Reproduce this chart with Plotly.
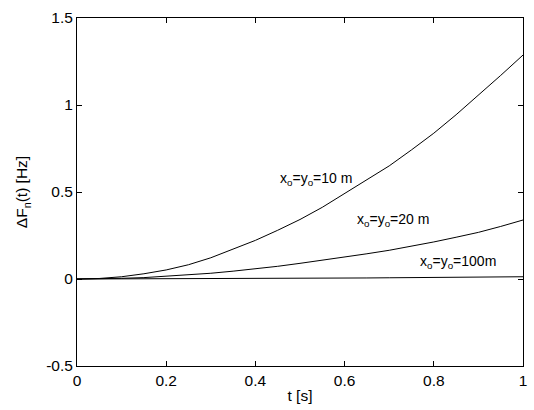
import plotly.graph_objects as go

t = [0.0, 0.05, 0.1, 0.15, 0.2, 0.25, 0.3, 0.35, 0.4, 0.45, 0.5,
     0.55, 0.6, 0.65, 0.7, 0.75, 0.8, 0.85, 0.9, 0.95, 1.0]
df_10m = [0.0, 0.003, 0.013, 0.03, 0.052, 0.082, 0.122, 0.17, 0.222, 0.28, 0.342,
          0.412, 0.49, 0.568, 0.65, 0.742, 0.838, 0.944, 1.056, 1.17, 1.287]
df_20m = [0.0, 0.001, 0.004, 0.008, 0.015, 0.023, 0.033, 0.045, 0.058, 0.073, 0.09,
          0.107, 0.126, 0.145, 0.165, 0.188, 0.213, 0.24, 0.268, 0.302, 0.339]
df_100m = [0.0, 0.0002, 0.0005, 0.0008, 0.001, 0.0015, 0.002, 0.0025, 0.003, 0.0035, 0.004,
           0.0045, 0.005, 0.006, 0.007, 0.008, 0.009, 0.010, 0.011, 0.012, 0.013]

labels = ["x<sub>o</sub>=y<sub>o</sub>=10 m",
          "x<sub>o</sub>=y<sub>o</sub>=20 m",
          "x<sub>o</sub>=y<sub>o</sub>=100m"]
label_t = [0.536, 0.708, 0.855]
label_y = [0.575, 0.34, 0.098]

x_ticks = [0, 0.2, 0.4, 0.6, 0.8, 1]
x_ticktext = ["0", "0.2", "0.4", "0.6", "0.8", "1"]
y_ticks = [-0.5, 0, 0.5, 1, 1.5]
y_ticktext = ["-0.5", "0", "0.5", "1", "1.5"]

FONT = "Liberation Sans, Arial, sans-serif"

fig = go.Figure()
for ys in (df_10m, df_20m, df_100m):
    fig.add_trace(go.Scatter(x=t, y=ys, mode="lines",
                             line=dict(color="black", width=1), showlegend=False))

for txt, lx, ly in zip(labels, label_t, label_y):
    fig.add_annotation(x=lx, y=ly, xref="x", yref="y", text=txt, showarrow=False,
                       font=dict(family=FONT, size=14, color="black"),
                       xanchor="center", yanchor="middle")

axis_common = dict(showline=True, linecolor="black", linewidth=1, mirror="ticks",
                   ticks="inside", ticklen=5, tickcolor="black", tickwidth=1,
                   showgrid=False, zeroline=False,
                   tickfont=dict(family=FONT, size=15.5, color="black"))

fig.update_xaxes(range=[0, 1], tickvals=x_ticks, ticktext=x_ticktext,
                 title=dict(text="t [s]", font=dict(family=FONT, size=15.5, color="black"),
                            standoff=2),
                 **axis_common)
fig.update_yaxes(range=[-0.5, 1.5], tickvals=y_ticks, ticktext=y_ticktext,
                 title=dict(text="ΔF<sub>n</sub>(t) [Hz]",
                            font=dict(family=FONT, size=15.5, color="black"),
                            standoff=14),
                 **axis_common)

fig.update_layout(width=534, height=410,
                  margin=dict(l=77, r=7, t=18, b=44),
                  paper_bgcolor="white", plot_bgcolor="white",
                  font=dict(family=FONT, size=14, color="black"))

fig.write_html("out.html", config={"displayModeBar": False},
               post_script="document.body.style.margin='0';document.body.style.overflow='hidden';")
